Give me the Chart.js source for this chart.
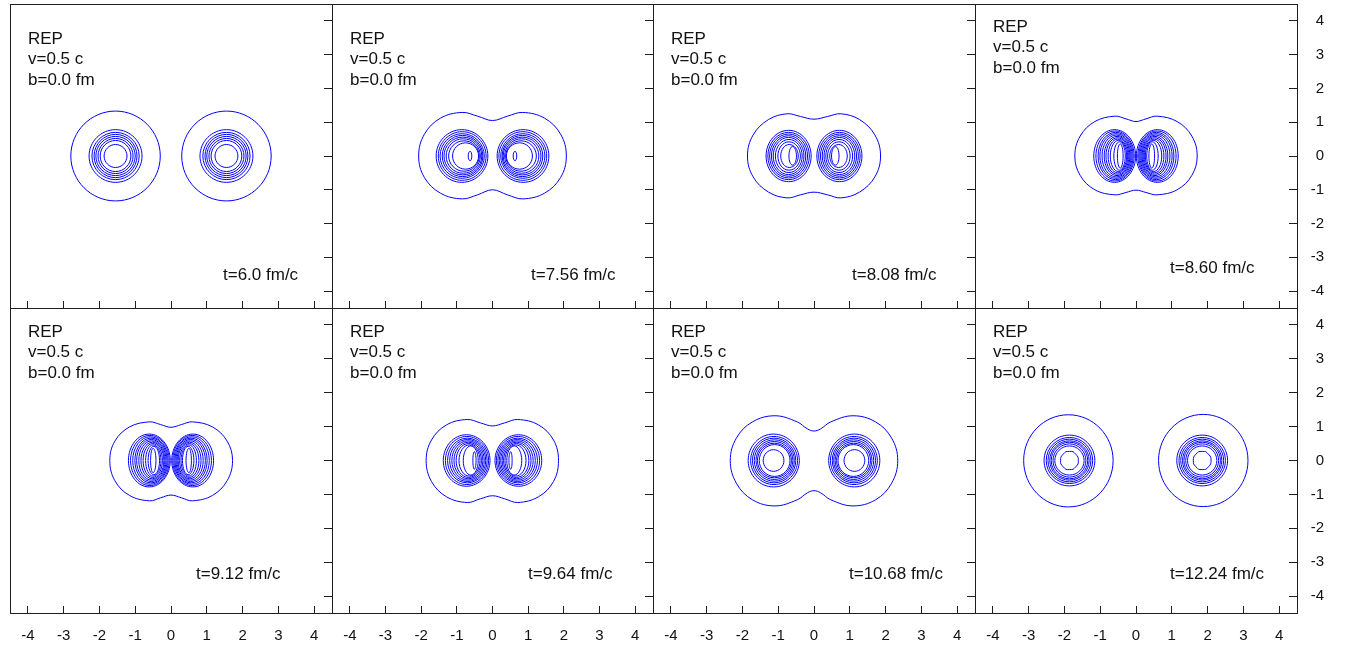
<!DOCTYPE html>
<html>
<head>
<meta charset="utf-8">
<script src="https://cdn.jsdelivr.net/npm/chart.js@4/dist/chart.umd.min.js"></script>
<style>
  html, body { margin: 0; padding: 0; background: #fff; }
  body { width: 1360px; height: 649px; position: relative; overflow: hidden; }
  canvas { position: absolute; }
</style>
</head>
<body>
<script>
// ---- data -------------------------------------------------------------
const xTickValues = [-4, -3, -2, -1, 0, 1, 2, 3, 4];
const yTickValues = [-4, -3, -2, -1, 0, 1, 2, 3, 4];
const headerLines = ['REP', 'v=0.5 c', 'b=0.0 fm'];
const panelTimes = ['t=6.0 fm/c', 't=7.56 fm/c', 't=8.08 fm/c', 't=8.60 fm/c',
                    't=9.12 fm/c', 't=9.64 fm/c', 't=10.68 fm/c', 't=12.24 fm/c'];

// Density contours, one closed curve per row: x0,y0, x1,y1, ... (fm)
const contoursT600 = [
  [-2.80,0, -1.55,1.33, -0.30,0, -1.55,-1.33],
  [-2.29,0, -1.55,0.78, -0.81,0, -1.55,-0.78],
  [-2.21,0, -1.55,0.70, -0.89,0, -1.55,-0.70],
  [-2.15,0, -1.55,0.64, -0.95,0, -1.55,-0.64],
  [-2.10,0, -1.55,0.58, -1.00,0, -1.55,-0.58],
  [-2.04,0, -1.55,0.52, -1.06,0, -1.55,-0.52],
  [-1.98,0, -1.55,0.46, -1.12,0, -1.55,-0.46],
  [-1.87,0, -1.55,0.34, -1.23,0, -1.55,-0.34],
  [0.30,0, 1.55,1.33, 2.80,0, 1.55,-1.33],
  [0.81,0, 1.55,0.78, 2.29,0, 1.55,-0.78],
  [0.89,0, 1.55,0.70, 2.21,0, 1.55,-0.70],
  [0.95,0, 1.55,0.64, 2.15,0, 1.55,-0.64],
  [1.00,0, 1.55,0.58, 2.10,0, 1.55,-0.58],
  [1.06,0, 1.55,0.52, 2.04,0, 1.55,-0.52],
  [1.12,0, 1.55,0.46, 1.98,0, 1.55,-0.46],
  [1.23,0, 1.55,0.34, 1.87,0, 1.55,-0.34]
];

const contoursT756 = [
  [2.07,0, 1.91,0.645, 1.46,1.12, 0.85,1.29, 0.42,1.18, 0,1.05, -0.42,1.18, -0.85,1.29, -1.46,1.12, -1.91,0.645,
   -2.07,0, -1.91,-0.635, -1.46,-1.10, -0.85,-1.27, -0.42,-1.15, 0,-1.00, 0.42,-1.15, 0.85,-1.27, 1.46,-1.10, 1.91,-0.635],
  [-1.58,0, -0.86,0.78, -0.13,0, -0.86,-0.78],
  [-1.52,0, -0.85,0.72, -0.18,0, -0.85,-0.72],
  [-1.47,0, -0.85,0.66, -0.23,0, -0.85,-0.66],
  [-1.41,0, -0.84,0.61, -0.27,0, -0.84,-0.61],
  [-1.36,0, -0.83,0.56, -0.30,0, -0.83,-0.56],
  [-1.30,0, -0.82,0.51, -0.34,0, -0.82,-0.51],
  [-1.23,0, -0.80,0.45, -0.37,0, -0.80,-0.45],
  [-1.12,0, -0.76,0.39, -0.39,0, -0.76,-0.39],
  [-0.68,0, -0.63,0.14, -0.58,0, -0.63,-0.14],
  [0.13,0, 0.86,0.78, 1.58,0, 0.86,-0.78],
  [0.18,0, 0.85,0.72, 1.52,0, 0.85,-0.72],
  [0.23,0, 0.85,0.66, 1.47,0, 0.85,-0.66],
  [0.27,0, 0.84,0.61, 1.41,0, 0.84,-0.61],
  [0.30,0, 0.83,0.56, 1.36,0, 0.83,-0.56],
  [0.34,0, 0.82,0.51, 1.30,0, 0.82,-0.51],
  [0.37,0, 0.80,0.45, 1.23,0, 0.80,-0.45],
  [0.39,0, 0.76,0.39, 1.12,0, 0.76,-0.39],
  [0.58,0, 0.63,0.14, 0.68,0, 0.63,-0.14]
];

const contoursT808 = [
  [1.86,0, 1.70,0.625, 1.27,1.08, 0.75,1.25, 0.38,1.17, 0,1.09, -0.38,1.17, -0.75,1.25, -1.27,1.08, -1.70,0.625,
   -1.86,0, -1.70,-0.62, -1.27,-1.07, -0.75,-1.24, -0.38,-1.15, 0,-1.07, 0.38,-1.15, 0.75,-1.24, 1.27,-1.07, 1.70,-0.62],
  [-1.34,0, -0.71,0.76, -0.08,0, -0.71,-0.76],
  [-1.29,0, -0.71,0.70, -0.13,0, -0.71,-0.70],
  [-1.24,0, -0.71,0.65, -0.18,0, -0.71,-0.65],
  [-1.19,0, -0.71,0.60, -0.23,0, -0.71,-0.60],
  [-1.14,0, -0.71,0.55, -0.28,0, -0.71,-0.55],
  [-1.08,0, -0.70,0.49, -0.33,0, -0.70,-0.49],
  [-1.01,0, -0.70,0.42, -0.38,0, -0.70,-0.42],
  [-0.93,0, -0.69,0.34, -0.44,0, -0.69,-0.34],
  [-0.70,0, -0.60,0.28, -0.49,0, -0.60,-0.27],
  [0.08,0, 0.71,0.76, 1.34,0, 0.71,-0.76],
  [0.13,0, 0.71,0.70, 1.29,0, 0.71,-0.70],
  [0.18,0, 0.71,0.65, 1.24,0, 0.71,-0.65],
  [0.23,0, 0.71,0.60, 1.19,0, 0.71,-0.60],
  [0.28,0, 0.71,0.55, 1.14,0, 0.71,-0.55],
  [0.33,0, 0.70,0.49, 1.08,0, 0.70,-0.49],
  [0.38,0, 0.70,0.42, 1.01,0, 0.70,-0.42],
  [0.44,0, 0.69,0.34, 0.93,0, 0.69,-0.34],
  [0.49,0, 0.60,0.28, 0.70,0, 0.60,-0.27]
];

const contoursT860 = [
  [1.71,0, 1.56,0.59, 1.15,1.02, 0.59,1.18, 0.28,1.10, 0,1.02, -0.28,1.10, -0.59,1.18, -1.15,1.02, -1.56,0.59,
   -1.71,0, -1.56,-0.575, -1.15,-1.00, -0.59,-1.15, -0.28,-1.08, 0,-1.01, 0.28,-1.08, 0.59,-1.15, 1.15,-1.00, 1.56,-0.575],
  [-1.18,0, -0.60,0.78, -0.01,0, -0.60,-0.78],
  [-1.12,0, -0.59,0.74, -0.05,0, -0.59,-0.74],
  [-1.06,0, -0.57,0.70, -0.08,0, -0.57,-0.70],
  [-1.01,0, -0.56,0.66, -0.11,0, -0.56,-0.66],
  [-0.95,0, -0.55,0.62, -0.14,0, -0.55,-0.62],
  [-0.89,0, -0.53,0.58, -0.17,0, -0.53,-0.58],
  [-0.84,0, -0.52,0.54, -0.20,0, -0.52,-0.54],
  [-0.78,0, -0.51,0.50, -0.23,0, -0.51,-0.50],
  [-0.72,0, -0.49,0.46, -0.26,0, -0.49,-0.46],
  [-0.62,0, -0.46,0.42, -0.30,0, -0.46,-0.42],
  [-0.52,0, -0.44,0.36, -0.36,0, -0.44,-0.36],
  [0.01,0, 0.60,0.78, 1.18,0, 0.60,-0.78],
  [0.05,0, 0.59,0.74, 1.12,0, 0.59,-0.74],
  [0.08,0, 0.57,0.70, 1.06,0, 0.57,-0.70],
  [0.11,0, 0.56,0.66, 1.01,0, 0.56,-0.66],
  [0.14,0, 0.55,0.62, 0.95,0, 0.55,-0.62],
  [0.17,0, 0.53,0.58, 0.89,0, 0.53,-0.58],
  [0.20,0, 0.52,0.54, 0.84,0, 0.52,-0.54],
  [0.23,0, 0.51,0.50, 0.78,0, 0.51,-0.50],
  [0.26,0, 0.49,0.46, 0.72,0, 0.49,-0.46],
  [0.30,0, 0.46,0.42, 0.62,0, 0.46,-0.42],
  [0.36,0, 0.44,0.36, 0.52,0, 0.44,-0.36]
];

const contoursT912 = [
  [1.72,0, 1.57,0.57, 1.16,0.99, 0.60,1.14, 0.29,1.06, 0,0.98, -0.29,1.06, -0.60,1.14, -1.16,0.99, -1.57,0.57,
   -1.71,0, -1.57,-0.595, -1.16,-1.03, -0.60,-1.19, -0.29,-1.10, 0,-1.02, 0.29,-1.10, 0.60,-1.19, 1.16,-1.03, 1.57,-0.595],
  [-1.19,0, -0.61,0.78, -0.02,0, -0.61,-0.78],
  [-1.13,0, -0.59,0.74, -0.05,0, -0.59,-0.74],
  [-1.07,0, -0.58,0.70, -0.08,0, -0.58,-0.70],
  [-1.01,0, -0.56,0.66, -0.11,0, -0.56,-0.66],
  [-0.96,0, -0.55,0.62, -0.14,0, -0.55,-0.62],
  [-0.90,0, -0.54,0.58, -0.17,0, -0.54,-0.58],
  [-0.84,0, -0.52,0.54, -0.20,0, -0.52,-0.54],
  [-0.78,0, -0.51,0.50, -0.24,0, -0.51,-0.50],
  [-0.71,0, -0.50,0.46, -0.28,0, -0.50,-0.46],
  [-0.64,0, -0.48,0.42, -0.32,0, -0.48,-0.42],
  [-0.57,0, -0.50,0.36, -0.42,0, -0.50,-0.36],
  [0.02,0, 0.61,0.78, 1.19,0, 0.61,-0.78],
  [0.05,0, 0.59,0.74, 1.13,0, 0.59,-0.74],
  [0.08,0, 0.58,0.70, 1.07,0, 0.58,-0.70],
  [0.11,0, 0.56,0.66, 1.01,0, 0.56,-0.66],
  [0.14,0, 0.55,0.62, 0.96,0, 0.55,-0.62],
  [0.17,0, 0.54,0.58, 0.90,0, 0.54,-0.58],
  [0.20,0, 0.52,0.54, 0.84,0, 0.52,-0.54],
  [0.24,0, 0.51,0.50, 0.78,0, 0.51,-0.50],
  [0.28,0, 0.50,0.46, 0.71,0, 0.50,-0.46],
  [0.32,0, 0.48,0.42, 0.64,0, 0.48,-0.42],
  [0.42,0, 0.50,0.36, 0.57,0, 0.50,-0.36]
];

const contoursT964 = [
  [1.85,0, 1.71,0.605, 1.29,1.05, 0.71,1.21, 0.34,1.11, 0,1.02, -0.34,1.11, -0.71,1.21, -1.29,1.05, -1.71,0.605,
   -1.86,0, -1.71,-0.62, -1.29,-1.07, -0.71,-1.24, -0.34,-1.13, 0,-1.04, 0.34,-1.13, 0.71,-1.24, 1.29,-1.07, 1.71,-0.62],
  [-1.38,0, -0.73,0.76, -0.07,0, -0.73,-0.76],
  [-1.32,0, -0.72,0.71, -0.11,0, -0.72,-0.71],
  [-1.26,0, -0.71,0.66, -0.15,0, -0.71,-0.66],
  [-1.20,0, -0.70,0.62, -0.19,0, -0.70,-0.62],
  [-1.14,0, -0.69,0.58, -0.23,0, -0.69,-0.58],
  [-1.08,0, -0.68,0.54, -0.27,0, -0.68,-0.54],
  [-1.02,0, -0.67,0.50, -0.31,0, -0.67,-0.50],
  [-0.94,0, -0.65,0.46, -0.35,0, -0.65,-0.46],
  [-0.82,0, -0.61,0.43, -0.40,0, -0.61,-0.43],
  [-0.55,0, -0.51,0.26, -0.46,0, -0.51,-0.26],
  [0.07,0, 0.73,0.76, 1.38,0, 0.73,-0.76],
  [0.11,0, 0.72,0.71, 1.32,0, 0.72,-0.71],
  [0.15,0, 0.71,0.66, 1.26,0, 0.71,-0.66],
  [0.19,0, 0.70,0.62, 1.20,0, 0.70,-0.62],
  [0.23,0, 0.69,0.58, 1.14,0, 0.69,-0.58],
  [0.27,0, 0.68,0.54, 1.08,0, 0.68,-0.54],
  [0.31,0, 0.67,0.50, 1.02,0, 0.67,-0.50],
  [0.35,0, 0.65,0.46, 0.94,0, 0.65,-0.46],
  [0.40,0, 0.61,0.43, 0.82,0, 0.61,-0.43],
  [0.46,0, 0.51,0.26, 0.55,0, 0.51,-0.26]
];

const contoursT1068 = [
  [2.34,0, 2.17,0.66, 1.72,1.14, 1.09,1.32, 0.47,1.14, 0.18,0.93, 0,0.87, -0.18,0.93, -0.47,1.14, -1.09,1.32, -1.72,1.14, -2.17,0.66,
   -2.34,0, -2.17,-0.67, -1.72,-1.16, -1.09,-1.34, -0.47,-1.16, -0.18,-0.95, 0,-0.89, 0.18,-0.95, 0.47,-1.16, 1.09,-1.34, 1.72,-1.16, 2.17,-0.67],
  [-1.84,0, -1.13,0.78, -0.41,0, -1.13,-0.78],
  [-1.77,0, -1.12,0.71, -0.46,0, -1.12,-0.71],
  [-1.72,0, -1.12,0.66, -0.51,0, -1.12,-0.66],
  [-1.67,0, -1.11,0.61, -0.55,0, -1.11,-0.61],
  [-1.62,0, -1.11,0.56, -0.59,0, -1.11,-0.56],
  [-1.58,0, -1.11,0.51, -0.63,0, -1.11,-0.51],
  [-1.53,0, -1.10,0.47, -0.67,0, -1.10,-0.47],
  [-1.42,0, -1.13,0.32, -0.84,0, -1.13,-0.32],
  [0.41,0, 1.13,0.78, 1.84,0, 1.13,-0.78],
  [0.46,0, 1.12,0.71, 1.77,0, 1.12,-0.71],
  [0.51,0, 1.12,0.66, 1.72,0, 1.12,-0.66],
  [0.55,0, 1.11,0.61, 1.67,0, 1.11,-0.61],
  [0.59,0, 1.11,0.56, 1.62,0, 1.11,-0.56],
  [0.63,0, 1.11,0.51, 1.58,0, 1.11,-0.51],
  [0.67,0, 1.10,0.47, 1.53,0, 1.10,-0.47],
  [0.84,0, 1.13,0.32, 1.42,0, 1.13,-0.32]
];

const contoursT1224 = [
  [-3.14,0, -1.89,1.35, -0.64,0, -1.89,-1.37],
  [-2.57,0, -1.86,0.75, -1.15,0, -1.86,-0.75],
  [-2.51,0, -1.86,0.68, -1.21,0, -1.86,-0.68],
  [-2.46,0, -1.86,0.63, -1.26,0, -1.86,-0.63],
  [-2.41,0, -1.86,0.58, -1.31,0, -1.86,-0.58],
  [-2.37,0, -1.86,0.54, -1.35,0, -1.86,-0.54],
  [-2.32,0, -1.86,0.49, -1.40,0, -1.86,-0.49],
  [-2.27,0, -1.86,0.43, -1.45,0, -1.86,-0.43],
  [-1.62,0.10, -1.76,0.26, -1.96,0.26, -2.10,0.10, -2.10,-0.10, -1.96,-0.26, -1.76,-0.26, -1.62,-0.10],
  [0.63,0, 1.88,1.36, 3.13,0, 1.88,-1.36],
  [1.14,0, 1.85,0.75, 2.56,0, 1.85,-0.75],
  [1.20,0, 1.85,0.68, 2.50,0, 1.85,-0.68],
  [1.25,0, 1.85,0.63, 2.45,0, 1.85,-0.63],
  [1.30,0, 1.85,0.58, 2.40,0, 1.85,-0.58],
  [1.34,0, 1.85,0.54, 2.36,0, 1.85,-0.54],
  [1.39,0, 1.85,0.49, 2.31,0, 1.85,-0.49],
  [1.44,0, 1.85,0.43, 2.26,0, 1.85,-0.43],
  [2.09,0.10, 1.95,0.26, 1.75,0.26, 1.61,0.10, 1.61,-0.10, 1.75,-0.26, 1.95,-0.26, 2.09,-0.10]
];

const panelContours = [contoursT600, contoursT756, contoursT808, contoursT860,
                       contoursT912, contoursT964, contoursT1068, contoursT1224];

// ---- layout -----------------------------------------------------------
const colEdges = [10, 332, 653, 975, 1297];
const rowEdges = [4, 308, 613];
const PAD = 4, RIGHT = 27, BOTTOM = 40;
// per panel: header centre offset from top, time label left/centre offsets
const textPlace = [
  {hy: 35, tx: 213, ty: 271}, {hy: 35, tx: 199, ty: 271}, {hy: 35, tx: 199, ty: 271}, {hy: 23, tx: 195, ty: 264},
  {hy: 24, tx: 186, ty: 266}, {hy: 24, tx: 196, ty: 266}, {hy: 24, tx: 196, ty: 266}, {hy: 24, tx: 195, ty: 266}
];
const LINE_BLUE = '#0000ff';
const FRAME = '#1e1e1e';
const FONT_FAMILY = '"Liberation Sans", Arial, Helvetica, sans-serif';

const panelText = {
  id: 'panelText',
  afterDatasetsDraw(chart, args, o) {
    const {ctx, chartArea: a} = chart;
    ctx.save();
    ctx.font = '17px ' + FONT_FAMILY;
    ctx.fillStyle = '#111';
    ctx.textAlign = 'left';
    ctx.textBaseline = 'middle';
    headerLines.forEach((s, i) => ctx.fillText(s, a.left + 18, a.top + o.hy + i * 20.5));
    ctx.fillText(o.time, a.left + o.tx, a.top + o.ty);
    ctx.restore();
  }
};

function toDatasets(contours) {
  return contours.map(flat => {
    const pts = [];
    for (let i = 0; i < flat.length; i += 2) pts.push({x: flat[i], y: flat[i + 1]});
    const n = pts.length;
    // wrap the closed curve so the spline is smooth where it joins itself
    const data = [pts[n - 1], ...pts, pts[0], pts[1]];
    const last = data.length - 1;
    return {
      data,
      borderColor: LINE_BLUE,
      borderWidth: 1,
      pointRadius: 0,
      fill: false,
      tension: n > 8 ? 0.38 : (n === 8 ? 0.15 : 0.55),
      segment: {
        borderColor: c => (c.p0DataIndex === 0 || c.p1DataIndex === last) ? 'rgba(0,0,0,0)' : undefined
      }
    };
  });
}

// axis boxes keep a fixed size and never push the plot area around
function fixBox(size) {
  return s => {
    if (s.isHorizontal()) s.height = size; else s.width = size;
    s.paddingLeft = s.paddingRight = s.paddingTop = s.paddingBottom = 0;
  };
}

function frameAxis(axis, position) {
  return {
    axis, type: 'linear', position, min: -4.5, max: 4.5,
    grid: {display: false, drawTicks: false},
    ticks: {display: false},
    border: {display: true, color: FRAME, width: 1},
    afterFit: fixBox(0)
  };
}

panelContours.forEach((contours, p) => {
  const col = p % 4, row = Math.floor(p / 4);
  const L = colEdges[col], T = rowEdges[row];
  const W = colEdges[col + 1] - L, H = rowEdges[row + 1] - T;
  const canvas = document.createElement('canvas');
  canvas.width = W + PAD + RIGHT;
  canvas.height = H + PAD + BOTTOM;
  canvas.style.left = (L - PAD) + 'px';
  canvas.style.top = (T - PAD) + 'px';
  document.body.appendChild(canvas);

  new Chart(canvas, {
    type: 'line',
    data: {datasets: toDatasets(contours)},
    plugins: [panelText],
    options: {
      responsive: false,
      animation: false,
      devicePixelRatio: 1,
      events: [],
      layout: {padding: {left: PAD, top: PAD, right: 0, bottom: 0}},
      plugins: {
        legend: {display: false},
        tooltip: {enabled: false},
        panelText: Object.assign({time: panelTimes[p]}, textPlace[p])
      },
      scales: {
        x: {
          type: 'linear', position: 'bottom', min: -4.5, max: 4.5,
          afterBuildTicks: s => { s.ticks = xTickValues.map(v => ({value: v})); },
          afterFit: fixBox(BOTTOM),
          grid: {drawOnChartArea: false, drawTicks: true, tickLength: -7, tickColor: FRAME, tickWidth: 1},
          border: {display: true, color: FRAME, width: 1},
          ticks: {display: row === 1, color: '#111', padding: 21, maxRotation: 0, autoSkip: false,
                  font: {family: FONT_FAMILY, size: 15}}
        },
        y: {
          type: 'linear', position: 'right', min: -4.5, max: 4.5,
          afterBuildTicks: s => { s.ticks = yTickValues.map(v => ({value: v})); },
          afterFit: fixBox(RIGHT),
          grid: {drawOnChartArea: false, drawTicks: true, tickLength: -8, tickColor: FRAME, tickWidth: 1},
          border: {display: true, color: FRAME, width: 1},
          ticks: {display: col === 3, color: '#111', padding: 22, crossAlign: 'far', autoSkip: false,
                  font: {family: FONT_FAMILY, size: 15}}
        },
        xTop: frameAxis('x', 'top'),
        yLeft: frameAxis('y', 'left')
      }
    }
  });
});
</script>
</body>
</html>
